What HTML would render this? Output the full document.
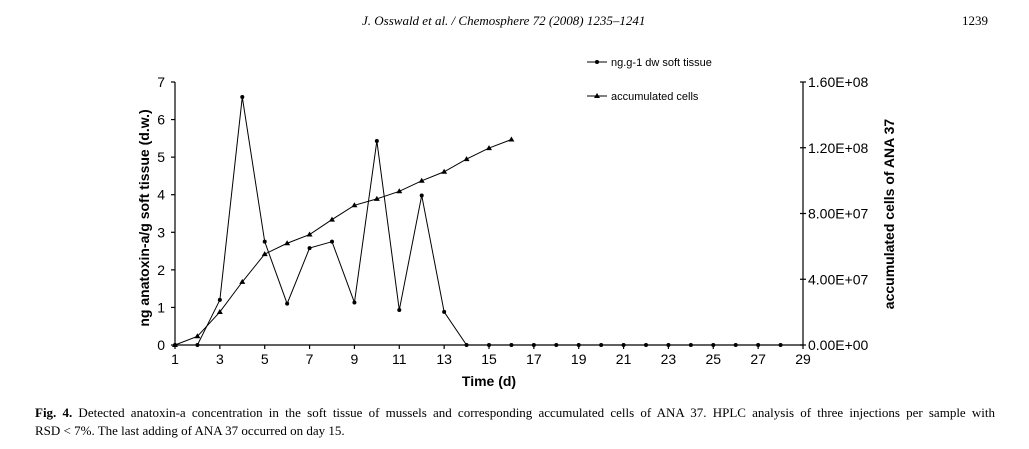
<!DOCTYPE html>
<html><head><meta charset="utf-8"><style>
body{margin:0;background:#fff;width:1029px;height:449px;overflow:hidden;position:relative;font-family:"Liberation Serif",serif}
.hdr{position:absolute;top:13px;font-size:13px;font-style:italic}
.cap{position:absolute;left:35px;top:404px;font-size:13px;line-height:18px;width:960px}
.l1{display:block;text-align:justify;text-align-last:justify;white-space:nowrap}
svg text{font-family:"Liberation Sans",sans-serif}
</style></head><body>
<div class="hdr" style="left:362px">J. Osswald et al. / Chemosphere 72 (2008) 1235–1241</div>
<div class="hdr" style="left:962px;font-style:normal">1239</div>
<svg id="chart" width="1029" height="449" style="position:absolute;left:0;top:0"></svg>
<div class="cap"><span class="l1" style="white-space:normal"><b>Fig. 4.</b> Detected anatoxin-a concentration in the soft tissue of mussels and corresponding accumulated cells of ANA 37. HPLC analysis of three injections per sample with</span>RSD &lt; 7%. The last adding of ANA 37 occurred on day 15.</div>
<script>
const days=[1,2,3,4,5,6,7,8,9,10,11,12,13,14,15,16,17,18,19,20,21,22,23,24,25,26,27,28];
const tissue=[0,0,1.2,6.6,2.75,1.1,2.58,2.75,1.13,5.43,0.93,3.98,0.88,0,0,0,0,0,0,0,0,0,0,0,0,0,0,0];
const cellDays=[1,2,3,4,5,6,7,8,9,10,11,12,13,14,15,16];
const cells=[0,0.53e7,2.01e7,3.84e7,5.53e7,6.19e7,6.72e7,7.63e7,8.50e7,8.89e7,9.35e7,9.99e7,10.54e7,11.31e7,11.98e7,12.50e7];
const xTicks=[1,3,5,7,9,11,13,15,17,19,21,23,25,27,29];
const yTicks=[0,1,2,3,4,5,6,7];
const y2Ticks=[0,4e7,8e7,1.2e8,1.6e8];
const y2Labels=["0.00E+00","4.00E+07","8.00E+07","1.20E+08","1.60E+08"];
const svg=document.getElementById('chart');const NS='http://www.w3.org/2000/svg';
const X=d=>175+(d-1)*(628/28), Y=v=>345-v*(263/7), Y2=v=>345-v*(263/1.6e8);
function el(t,a,p){const e=document.createElementNS(NS,t);for(const k in a)e.setAttribute(k,a[k]);(p||svg).appendChild(e);return e}
function txt(x,y,s,a){const t=el('text',Object.assign({x:x,y:y,'font-size':14},a||{}));t.textContent=s;return t}
const ax={stroke:'#000','stroke-width':1.2};
let e=el('line',Object.assign({x1:175,y1:82,x2:175,y2:345},ax));

e=el('line',Object.assign({x1:175,y1:345,x2:803,y2:345},ax));

e=el('line',Object.assign({x1:803,y1:82,x2:803,y2:345},ax));

yTicks.forEach(v=>{el('line',Object.assign({x1:171,x2:175,y1:Y(v),y2:Y(v)},ax));
 e=txt(165,Y(v)+5,String(v),{'text-anchor':'end'});
 });
xTicks.forEach(v=>{el('line',Object.assign({x1:X(v),x2:X(v),y1:345,y2:349},ax));
 e=txt(X(v),364,String(v),{'text-anchor':'middle'});
 });
y2Ticks.forEach((v,i)=>{el('line',Object.assign({x1:800,x2:806,y1:Y2(v),y2:Y2(v)},ax));
 e=txt(808,Y2(v)+5,y2Labels[i]);
 });
e=txt(489,386,'Time (d)',{'text-anchor':'middle','font-weight':'bold','font-size':14});

e=txt(0,0,'ng anatoxin-a/g soft tissue (d.w.)',{'text-anchor':'middle','font-weight':'bold','font-size':14,transform:'translate(149,218) rotate(-90)'});

e=txt(0,0,'accumulated cells of ANA 37',{'text-anchor':'middle','font-weight':'bold','font-size':14,transform:'translate(894,214) rotate(-90)'});

e=el('polyline',{points:days.map((d,i)=>X(d)+','+Y(tissue[i])).join(' '),fill:'none',stroke:'#000','stroke-width':1});

days.forEach((d,i)=>{e=el('circle',{cx:X(d),cy:Y(tissue[i]),r:2,fill:'#000'});
 });
e=el('polyline',{points:cellDays.map((d,i)=>X(d)+','+Y2(cells[i])).join(' '),fill:'none',stroke:'#000','stroke-width':1});

function tri(x,y){return el('polygon',{points:`${x},${y-3} ${x-3},${y+2} ${x+3},${y+2}`,fill:'#000'})}
cellDays.forEach((d,i)=>{e=tri(X(d),Y2(cells[i]));
 });
el('line',{x1:587,x2:607,y1:62,y2:62,stroke:'#000'});el('circle',{cx:597,cy:62,r:2});
e=txt(611,66,'ng.g-1 dw soft tissue',{'font-size':11});

el('line',{x1:587,x2:607,y1:96,y2:96,stroke:'#000'});tri(597,96);
e=txt(611,100,'accumulated cells',{'font-size':11});

</script>
</body></html>
